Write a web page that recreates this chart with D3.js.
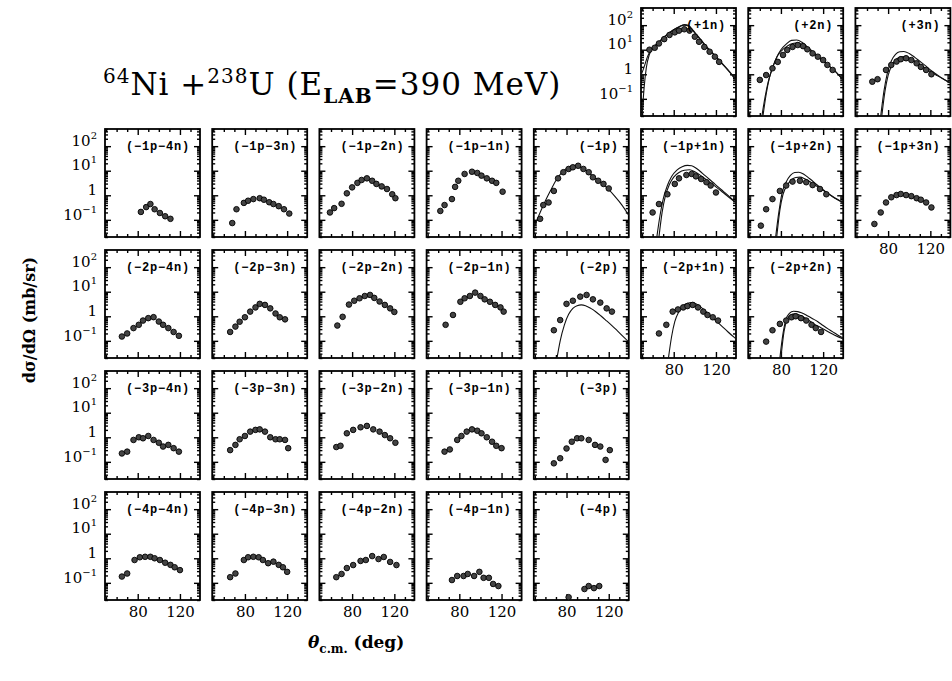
<!DOCTYPE html>
<html>
<head>
<meta charset="utf-8">
<script src="https://cdn.jsdelivr.net/npm/d3@7"></script>
<style>
body { margin: 0; background: #fff; }
</style>
</head>
<body>
<svg id="chart" width="952" height="681"></svg>
<script>
// dsigma/dOmega (mb/sr) vs theta c.m. (deg), one array per transfer channel

// data points  [theta, dsigma/dOmega]
var dP1n = [[57,10],[62,12],[66,18],[71,27],[76,40],[81,51],[85,60],[90,68],[95,60],[100,34],[104,21],[109,13],[114,8.3],[119,5.2],[123,3.2]];
var dP2n = [[60,0.59],[66,0.93],[72,1.75],[77,3.2],[82,6.1],[86,9.8],[91,13],[96,15.5],[101,14],[105,10.4],[110,7.1],[115,5.2],[120,3.8],[124,2.4],[129,1.5]];
var dP3n = [[65,0.5],[70,0.63],[78,1.5],[83,2.4],[88,3.3],[92,4.1],[97,4.5],[102,3.8],[107,2.8],[111,2.0],[116,1.5],[121,1.0]];

var dM1pM4n = [[83,0.21],[88,0.33],[92,0.44],[96,0.27],[101,0.19],[106,0.14],[111,0.11]];
var dM1pM3n = [[68,0.074],[72,0.27],[79,0.49],[83,0.6],[88,0.7],[94,0.76],[98,0.66],[103,0.52],[107,0.44],[112,0.36],[117,0.27],[122,0.18]];
var dM1pM2n = [[59,0.2],[63,0.3],[70,0.45],[75,1.2],[80,2.1],[85,3.2],[89,4.2],[94,4.9],[99,3.9],[103,2.9],[108,2.3],[113,1.8],[118,1.1],[121,0.76]];
var dM1pM1n = [[62,0.23],[66,0.4],[73,0.7],[76,2.2],[79,3.9],[85,7.4],[92,9.1],[97,8.1],[101,6.3],[106,4.9],[111,3.9],[115,3.2],[121,1.4]];
var dM1p = [[55,0.11],[58,0.4],[63,0.51],[68,1.5],[72,4.9],[77,8.7],[82,11.8],[86,13.8],[91,15.9],[96,11.8],[101,8.7],[105,5.4],[110,3.9],[115,2.9],[120,1.9]];
var dM1pP1n = [[60,0.2],[66,0.44],[74,1.1],[81,2.9],[85,4.9],[92,6.7],[97,7.4],[101,5.9],[106,4.6],[111,3.4],[115,2.5],[120,1.3]];
var dM1pP2n = [[61,0.058],[66,0.27],[72,0.7],[79,1.5],[85,2.5],[91,3.6],[98,3.9],[104,3.4],[110,2.6],[117,1.8],[123,1.1]];
var dM1pP3n = [[67,0.068],[73,0.2],[78,0.51],[83,0.83],[88,1.02],[92,1.13],[97,1.02],[102,0.92],[107,0.76],[111,0.66],[116,0.51],[121,0.32]];

var dM2pM4n = [[65,0.15],[70,0.2],[76,0.33],[81,0.45],[85,0.67],[90,0.84],[95,0.92],[100,0.61],[104,0.45],[109,0.33],[114,0.23],[119,0.16]];
var dM2pM3n = [[66,0.23],[71,0.38],[75,0.6],[80,0.91],[85,1.55],[90,2.3],[94,3.2],[99,2.9],[104,2.1],[109,1.3],[113,0.91],[118,0.75]];
var dM2pM2n = [[66,0.42],[71,0.95],[77,3.0],[82,4.3],[87,5.4],[92,6.7],[97,7.4],[101,5.6],[106,4.0],[111,2.9],[116,2.1],[120,1.5]];
var dM2pM1n = [[67,0.45],[74,1.13],[81,3.9],[85,5.4],[90,6.7],[95,9.2],[100,6.7],[104,4.9],[109,3.9],[114,2.9],[119,2.3],[122,1.55]];
var dM2p = [[68,0.27],[74,0.7],[80,3.2],[86,4.3],[93,6.3],[99,7.4],[105,4.9],[112,3.6],[118,2.1],[123,1.55]];
var dM2pP1n = [[66,0.2],[73,0.45],[79,1.55],[84,1.9],[89,2.3],[93,2.6],[98,2.9],[103,2.3],[108,1.55],[112,1.13],[117,0.91],[122,0.67]];
var dM2pP2n = [[66,0.093],[72,0.27],[79,0.49],[85,0.67],[90,0.91],[94,1.0],[99,0.84],[104,0.67],[109,0.45],[113,0.33],[118,0.23]];

var dM3pM4n = [[65,0.22],[70,0.26],[76,0.78],[81,1.0],[85,0.91],[90,1.13],[95,0.78],[100,0.6],[104,0.42],[109,0.49],[114,0.36],[119,0.26]];
var dM3pM3n = [[66,0.3],[71,0.49],[75,0.83],[80,1.13],[85,1.7],[90,2.0],[94,2.1],[99,1.7],[104,1.0],[109,0.83],[113,0.83],[118,0.78],[121,0.36]];
var dM3pM2n = [[65,0.4],[69,0.45],[75,1.45],[81,2.0],[88,2.55],[94,2.9],[100,2.1],[106,1.7],[111,1.23],[116,0.91],[121,0.6]];
var dM3pM1n = [[66,0.26],[71,0.32],[78,0.78],[82,1.13],[87,1.7],[92,2.1],[97,1.85],[101,1.45],[106,1.0],[111,0.66],[115,0.45],[120,0.36]];
var dM3p = [[68,0.087],[74,0.14],[80,0.35],[85,0.66],[90,0.91],[94,0.91],[101,0.78],[107,0.49],[112,0.42],[117,0.12],[121,0.3]];

var dM4pM4n = [[65,0.18],[70,0.24],[77,0.85],[82,1.1],[87,1.15],[92,1.15],[96,1.0],[101,0.85],[106,0.66],[111,0.54],[115,0.43],[120,0.33]];
var dM4pM3n = [[66,0.17],[71,0.24],[79,0.85],[83,1.1],[88,1.15],[93,1.1],[97,0.85],[102,0.63],[107,0.73],[112,0.54],[116,0.43],[120,0.28]];
var dM4pM2n = [[65,0.17],[70,0.23],[75,0.4],[81,0.53],[88,0.78],[93,0.85],[99,1.23],[105,0.93],[110,1.13],[116,0.71],[122,0.53]];
var dM4pM1n = [[73,0.13],[78,0.19],[84,0.19],[88,0.23],[94,0.19],[99,0.28],[103,0.16],[108,0.16],[112,0.09],[117,0.074]];
var dM4p = [[82,0.026],[97,0.056],[101,0.074],[106,0.061],[111,0.074]];

// calculated curves
var cP1nA = [[49,0.9],[52,2],[55,5],[58,9],[62,14],[66,20],[70,30],[75,45],[80,65],[85,85],[90,105],[94,100],[98,60],[102,38],[106,24],[110,14],[115,8.5],[120,5],[125,2.9],[130,1.7],[135,0.95],[139,0.55]];
var cP1nB = [[50,0.02],[52,0.3],[54,1.8],[57,6.5],[61,13],[66,21],[70,31],[75,46],[80,66],[85,86],[90,100],[94,92],[98,64],[102,40],[106,25],[110,15],[115,9],[120,5.3],[125,3.1],[130,1.8],[135,1.0],[139,0.58]];
var cP2nA = [[62,0.02],[65,0.12],[68,0.5],[72,1.8],[76,5],[80,10],[85,17],[90,24],[95,25],[100,20],[105,13],[110,8.5],[115,5.5],[120,3.6],[125,2.3],[130,1.5],[135,0.9],[139,0.6]];
var cP2nB = [[63,0.02],[66,0.15],[69,0.7],[73,2.4],[77,5.8],[81,9.5],[86,14],[91,18],[96,19],[101,15],[106,10.5],[111,7.0],[116,4.7],[121,3.2],[126,2.1],[131,1.4],[139,0.55]];
var cP3nA = [[73,0.02],[76,0.2],[79,1],[83,3.5],[87,6.5],[91,8.3],[95,8.5],[100,7],[105,5],[110,3.4],[115,2.3],[120,1.5],[125,1.05],[130,0.75],[135,0.55],[139,0.45]];
var cP3nB = [[74,0.02],[77,0.2],[80,0.9],[84,2.5],[88,4.2],[92,5.2],[96,5.3],[101,4.4],[106,3.3],[111,2.4],[116,1.7],[121,1.2],[126,0.9],[131,0.68],[139,0.45]];
var cM1p = [[50,0.06],[55,0.2],[60,0.6],[65,1.6],[70,4],[75,8],[80,12.5],[85,15.5],[90,16.5],[95,13],[100,9],[105,6],[110,4],[115,2.7],[120,1.7],[125,1.0],[130,0.55],[135,0.28],[139,0.15]];
var cM1pP1nA = [[64,0.02],[67,0.15],[70,0.7],[74,2.5],[78,5.8],[83,10.5],[88,14.5],[93,16.5],[97,16],[102,12],[107,8],[112,5.2],[117,3.4],[122,2.2],[127,1.45],[132,0.95],[139,0.5]];
var cM1pP1nB = [[66,0.02],[69,0.2],[72,0.9],[76,2.8],[80,5.5],[85,8.5],[90,10.5],[95,11],[100,9],[105,6.6],[110,4.6],[115,3.2],[120,2.2],[125,1.5],[130,1.0],[139,0.5]];
var cM1pP2nA = [[75,0.02],[78,0.2],[81,1.2],[85,3.5],[89,6.5],[93,8.5],[97,8.7],[102,7],[107,4.8],[112,3.2],[117,2.1],[122,1.45],[127,1.0],[132,0.72],[139,0.5]];
var cM1pP2nB = [[76,0.02],[79,0.25],[82,1.1],[86,2.6],[90,4.2],[94,5.3],[98,5.5],[103,4.6],[108,3.5],[113,2.5],[118,1.8],[123,1.3],[128,0.95],[133,0.7],[139,0.5]];
var cM2p = [[71,0.02],[74,0.1],[78,0.45],[82,1.2],[86,2.1],[90,2.7],[94,2.9],[98,2.7],[103,2.1],[108,1.5],[113,1.0],[118,0.65],[123,0.42],[128,0.26],[133,0.16],[139,0.09]];
var cM2pP1n = [[75,0.02],[78,0.15],[81,0.6],[85,1.6],[89,2.7],[93,3.4],[97,3.6],[101,3.2],[106,2.3],[111,1.5],[116,0.95],[121,0.6],[126,0.38],[131,0.24],[139,0.12]];
var cM2pP2nA = [[79,0.02],[82,0.2],[85,0.8],[88,1.3],[92,1.6],[96,1.55],[100,1.35],[105,1.05],[110,0.8],[115,0.6],[120,0.42],[125,0.3],[130,0.22],[139,0.13]];
var cM2pP2nB = [[80,0.02],[83,0.25],[86,0.75],[89,1.1],[93,1.25],[97,1.15],[101,0.95],[106,0.7],[111,0.5],[116,0.38],[121,0.29],[126,0.22],[131,0.17],[139,0.12]];

var panelNames = ["(+1n)", "(+2n)", "(+3n)",
  "(\u22121p\u22124n)", "(\u22121p\u22123n)", "(\u22121p\u22122n)", "(\u22121p\u22121n)", "(\u22121p)", "(\u22121p+1n)", "(\u22121p+2n)", "(\u22121p+3n)",
  "(\u22122p\u22124n)", "(\u22122p\u22123n)", "(\u22122p\u22122n)", "(\u22122p\u22121n)", "(\u22122p)", "(\u22122p+1n)", "(\u22122p+2n)",
  "(\u22123p\u22124n)", "(\u22123p\u22123n)", "(\u22123p\u22122n)", "(\u22123p\u22121n)", "(\u22123p)",
  "(\u22124p\u22124n)", "(\u22124p\u22123n)", "(\u22124p\u22122n)", "(\u22124p\u22121n)", "(\u22124p)"];
var panelData = [dP1n, dP2n, dP3n,
  dM1pM4n, dM1pM3n, dM1pM2n, dM1pM1n, dM1p, dM1pP1n, dM1pP2n, dM1pP3n,
  dM2pM4n, dM2pM3n, dM2pM2n, dM2pM1n, dM2p, dM2pP1n, dM2pP2n,
  dM3pM4n, dM3pM3n, dM3pM2n, dM3pM1n, dM3p,
  dM4pM4n, dM4pM3n, dM4pM2n, dM4pM1n, dM4p];
var panelCurves = [[cP1nA, cP1nB], [cP2nA, cP2nB], [cP3nA, cP3nB],
  [], [], [], [], [cM1p], [cM1pP1nA, cM1pP1nB], [cM1pP2nA, cM1pP2nB], [],
  [], [], [], [], [cM2p], [cM2pP1n], [cM2pP2nA, cM2pP2nB],
  [], [], [], [], [],
  [], [], [], [], []];

var xTickValues = [80, 120];
var yTickValues = [100, 10, 1, 0.1];
var yTickExp = ["2", "1", "", "\u22121"];

// grid layout [row, col]
var gridPos = [[0,5],[0,6],[0,7],
  [1,0],[1,1],[1,2],[1,3],[1,4],[1,5],[1,6],[1,7],
  [2,0],[2,1],[2,2],[2,3],[2,4],[2,5],[2,6],
  [3,0],[3,1],[3,2],[3,3],[3,4],
  [4,0],[4,1],[4,2],[4,3],[4,4]];
var showXLabels = ["4,0", "4,1", "4,2", "4,3", "4,4", "2,5", "2,6", "1,7"];

var W = 95, H = 108;
var serif = "'DejaVu Serif', 'Liberation Serif', serif";

var svg = d3.select("#chart");

var x = d3.scaleLinear().domain([49, 139]).range([0, W]);
var y = d3.scaleLog().domain([0.02, 500]).range([H, 0]);

function isDecade(v) {
  var l = Math.log10(v);
  return Math.abs(l - Math.round(l)) < 1e-6;
}
var yMajor = y.ticks().filter(isDecade);
var yMinor = y.ticks().filter(function (v) { return !isDecade(v); });
var xMinor = d3.range(50, 140, 10).filter(function (v) { return xTickValues.indexOf(v) < 0; });

var line = d3.line()
  .x(function (d) { return x(d[0]); })
  .y(function (d) { return y(d[1]); })
  .curve(d3.curveMonotoneX);

function tickStyle(sel) {
  sel.select(".domain").remove();
  sel.selectAll("line").attr("stroke", "#000").attr("stroke-width", 1.4);
}

panelNames.forEach(function (name, i) {
  var r = gridPos[i][0], c = gridPos[i][1];
  var left = 105 + c * 107.2, top = 8 + r * 121;
  var g = svg.append("g").attr("transform", "translate(" + left + "," + top + ")");

  g.append("clipPath").attr("id", "clip" + i)
    .append("rect").attr("width", W).attr("height", H);

  // ticks on all four sides, pointing inward
  [[d3.axisLeft, 0], [d3.axisRight, W]].forEach(function (a) {
    g.append("g").attr("transform", "translate(" + a[1] + ",0)")
      .call(a[0](y).tickValues(yMajor).tickSize(-6).tickFormat("")).call(tickStyle);
    g.append("g").attr("transform", "translate(" + a[1] + ",0)")
      .call(a[0](y).tickValues(yMinor).tickSize(-3).tickFormat("")).call(tickStyle);
  });
  [[d3.axisTop, 0], [d3.axisBottom, H]].forEach(function (a) {
    g.append("g").attr("transform", "translate(0," + a[1] + ")")
      .call(a[0](x).tickValues(xTickValues).tickSize(-6).tickFormat("")).call(tickStyle);
    g.append("g").attr("transform", "translate(0," + a[1] + ")")
      .call(a[0](x).tickValues(xMinor).tickSize(-3).tickFormat("")).call(tickStyle);
  });

  g.append("rect").attr("width", W).attr("height", H)
    .attr("fill", "none").attr("stroke", "#000").attr("stroke-width", 1.8);

  var inner = g.append("g").attr("clip-path", "url(#clip" + i + ")");
  panelCurves[i].forEach(function (cv) {
    inner.append("path").datum(cv).attr("d", line)
      .attr("fill", "none").attr("stroke", "#111").attr("stroke-width", 1.1);
  });
  inner.selectAll("circle").data(panelData[i]).join("circle")
    .attr("cx", function (d) { return x(d[0]); })
    .attr("cy", function (d) { return y(d[1]); })
    .attr("r", 2.8)
    .attr("fill", "#444").attr("stroke", "#000").attr("stroke-width", 0.9);

  g.append("text").attr("x", W - 10).attr("y", 21)
    .attr("text-anchor", "end")
    .attr("font-family", "'Liberation Mono', 'DejaVu Sans Mono', monospace")
    .attr("font-weight", "bold").attr("font-size", 12)
    .attr("letter-spacing", 0.8)
    .text(name);

  // y tick labels
  if (c === 0 || i === 0) {
    var ya = g.append("g")
      .call(d3.axisLeft(y).tickValues(yTickValues).tickSize(0).tickPadding(8).tickFormat(""));
    ya.select(".domain").remove();
    ya.selectAll(".tick text").each(function (d, k) {
      var t = d3.select(this)
        .attr("font-family", serif).attr("font-size", 15).attr("fill", "#000")
        .attr("dy", "-0.05em");
      if (yTickExp[k] === "") {
        t.text("1");
      } else {
        t.append("tspan").text("10");
        t.append("tspan").attr("font-size", 10).attr("dy", -7).text(yTickExp[k]);
      }
    });
  }

  // x tick labels
  if (showXLabels.indexOf(r + "," + c) >= 0) {
    var xa = g.append("g").attr("transform", "translate(0," + H + ")")
      .call(d3.axisBottom(x).tickValues(xTickValues).tickSize(0).tickPadding(6));
    xa.select(".domain").remove();
    xa.selectAll(".tick text").attr("font-family", serif).attr("font-size", 15).attr("fill", "#000");
  }
});

// title
var title = svg.append("text").attr("x", 103).attr("y", 95)
  .attr("font-family", serif).attr("font-size", 31).attr("fill", "#000")
  .attr("letter-spacing", 1.0);
title.append("tspan").attr("font-size", 20).attr("dy", -12).text("64");
title.append("tspan").attr("dy", 12).text("Ni +");
title.append("tspan").attr("font-size", 20).attr("dy", -12).text("238");
title.append("tspan").attr("dy", 12).text("U (E");
title.append("tspan").attr("font-size", 20).attr("font-weight", "bold").attr("dy", 8).text("LAB");
title.append("tspan").attr("dy", -8).text("=390 MeV)");

// axis titles
svg.append("text")
  .attr("transform", "translate(35,320) rotate(-90)")
  .attr("text-anchor", "middle")
  .attr("font-family", serif).attr("font-size", 16).attr("font-weight", "bold")
  .text("d\u03c3/d\u03a9 (mb/sr)");

var xt = svg.append("text").attr("x", 308).attr("y", 648)
  .attr("font-family", serif).attr("font-size", 17).attr("font-weight", "bold");
xt.append("tspan").attr("font-style", "italic").text("\u03b8");
xt.append("tspan").attr("font-size", 12).attr("dy", 5).text("c.m.");
xt.append("tspan").attr("dy", -5).text(" (deg)");
</script>
</body>
</html>
